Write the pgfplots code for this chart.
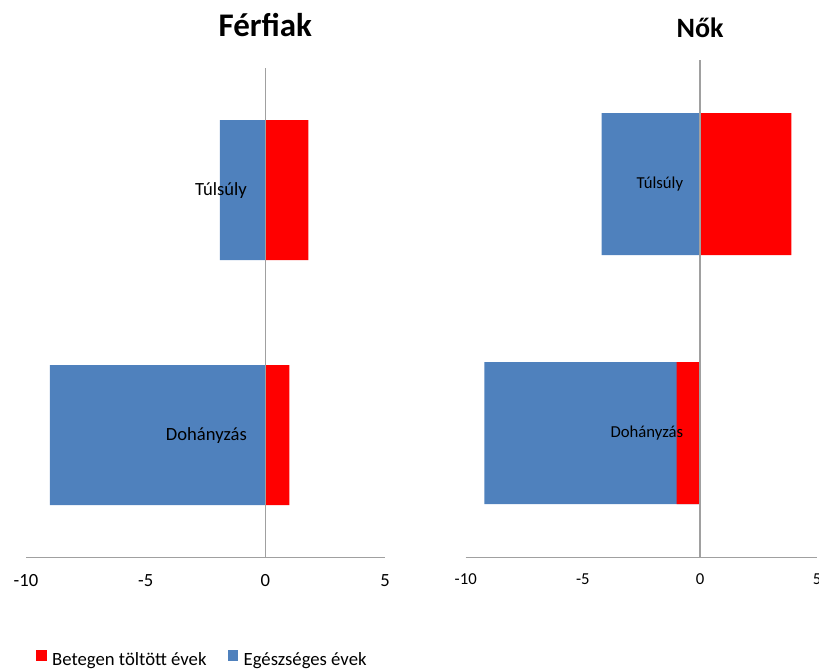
\documentclass[border=0pt]{standalone}
\usepackage{fontspec}
\setmainfont{Carlito}
\usepackage{pgfplots}
\usepackage{pgfplotstable}
\pgfplotsset{compat=1.18}

\definecolor{healthy}{HTML}{4F81BD}
\definecolor{sick}{HTML}{FF0000}
\definecolor{axisgray}{HTML}{A0A0A0}

% Years of life: healthy (negative side) and spent ill; 0 = Dohányzás, 1 = Túlsúly
\pgfplotstableread{
cat healthy sick
0 -9.0 1.0
1 -1.9 1.8
}\ferfiak
% for women the smoking bar reaches -9.2 in total, of which -1.0 is spent ill
\pgfplotstableread{
cat healthy sick
0 -9.2 -1.0
1 -4.2 3.9
}\nok

\pgfplotsset{
  panel/.style={
    scale only axis, xbar, bar shift=0pt,
    xmin=-10, xmax=5, ymin=-0.5, ymax=1.5,
    axis x line*=bottom, axis y line*=middle,
    axis line style={axisgray, line width=1.2pt},
    major tick length=0pt,
    xtick={-10,-5,0,5}, xticklabels={-10,-5,0,5},
    ytick={0,1}, yticklabels={Dohányzás,Túlsúly},
    axis on top, clip=false,
  },
}

\begin{document}
\begin{tikzpicture}
\useasboundingbox (0pt,0pt) rectangle (819pt,671pt);

% Men
\begin{axis}[panel,
  at={(26pt,113.3pt)}, anchor=south west,
  width=359pt, height=490pt, bar width=140pt,
  title={Férfiak},
  title style={font=\fontsize{33}{36}\selectfont\bfseries, at={(0.6667,1)}, anchor=base, yshift=24.7pt},
  ticklabel style={font=\fontsize{18.6}{20}\selectfont},
  xticklabel style={anchor=base, inner sep=0pt, yshift=-28.5pt},
  yticklabel style={anchor=east, inner sep=0pt, xshift=-18.3pt},
  legend image code/.code={\fill[#1] (0pt,-0.7pt) rectangle (10.7pt,10pt);},
  legend style={at={(0.0279,-0.2058)}, anchor=west, draw=none, fill=none,
    inner sep=0pt, outer sep=0pt, legend columns=2,
    font=\fontsize{18.7}{20}\selectfont,
    nodes={inner sep=0pt},
    /tikz/every odd column/.append style={column sep=5.5pt},
    /tikz/every even column/.append style={column sep=21pt}},
  legend cell align=left,
]
\addplot[fill=healthy, draw=none, forget plot] table[x=healthy, y=cat] {\ferfiak};
\addplot[fill=sick, draw=none, forget plot] table[x=sick, y=cat] {\ferfiak};
\addlegendimage{fill=sick, draw=none}
\addlegendentry{Betegen töltött évek}
\addlegendimage{fill=healthy, draw=none}
\addlegendentry{Egészséges évek}
\end{axis}

% Women
\begin{axis}[panel,
  at={(465.7pt,113.3pt)}, anchor=south west,
  width=351.5pt, height=498pt, bar width=142pt,
  title={Nők},
  title style={font=\fontsize{28}{32}\selectfont\bfseries, at={(0.6667,1)}, anchor=base, yshift=16.4pt},
  ticklabel style={font=\fontsize{16.7}{18}\selectfont},
  xticklabel style={anchor=base, inner sep=0pt, yshift=-26.6pt},
  yticklabel style={anchor=east, inner sep=0pt, xshift=-16.7pt},
]
\addplot[fill=healthy, draw=none] table[x=healthy, y=cat] {\nok};
\addplot[fill=sick, draw=none] table[x=sick, y=cat] {\nok};
\end{axis}
\end{tikzpicture}
\end{document}
